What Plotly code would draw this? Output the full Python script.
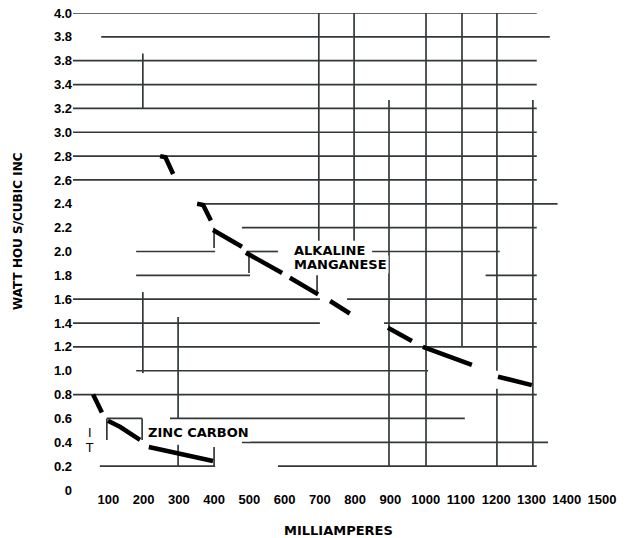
import plotly.graph_objects as go

# Axis ticks
x_tick_vals = [100, 200, 300, 400, 500, 600, 700, 800, 900, 1000, 1100, 1200, 1300, 1400, 1500]
y_tick_vals = [0, 0.2, 0.4, 0.6, 0.8, 1.0, 1.2, 1.4, 1.6, 1.8, 2.0, 2.2, 2.4, 2.6, 2.8, 3.0, 3.2, 3.4, 3.6, 3.8, 4.0]
y_tick_text = ["0", "0.2", "0.4", "0.6", "0.8", "1.0", "1.2", "1.4", "1.6", "1.8", "2.0", "2.2", "2.4",
               "2.6", "2.8", "3.0", "3.2", "3.4", "3.8", "3.8", "4.0"]

# Horizontal grid segments (y, x-start, x-end) in data units
h_y = [4.0, 3.8, 3.6, 3.4, 3.2, 3.0, 2.8, 2.6, 2.4, 2.2, 2.0, 2.0, 2.0, 1.8, 1.8, 1.6, 1.6,
       1.4, 1.4, 1.2, 1.0, 0.8, 0.6, 0.6, 0.4, 0.2, 0.2]
h_x0 = [0, 80, 0, 0, 0, 0, 0, 0, 352, 479, 179, 493, 848, 179, 1170, 0, 777,
        0, 882, 0, 179, 0, 275, 96, 479, 76, 581]
h_x1 = [1315, 1352, 1315, 1315, 1315, 1315, 1315, 1315, 1374, 1315, 403, 581, 1210, 502, 1315, 700, 1315,
        700, 1315, 1315, 1007, 1315, 1111, 196, 1347, 403, 1315]

# Vertical grid segments (x, y-start, y-end) in data units
v_x = [198, 198, 298, 298, 400, 400, 499, 697, 797, 896, 1001, 1103, 1202, 1202, 1304, 96, 196, 692]
v_y0 = [3.2, 0.98, 0.6, 0.2, 0.2, 2.03, 1.82, 2.09, 2.09, 0.2, 0.2, 1.2, 1.0, 0.2, 0.2, 0.42, 0.42, 1.65]
v_y1 = [3.66, 1.66, 1.45, 0.38, 0.36, 2.2, 2.0, 4.0, 4.0, 3.27, 4.0, 4.0, 4.0, 0.85, 3.27, 0.6, 0.6, 1.8]

# Zinc carbon curve pieces
zinc_x = [[57, 82], [99, 133, 190], [215, 303, 397]]
zinc_y = [[0.80, 0.65], [0.58, 0.53, 0.42], [0.36, 0.30, 0.243]]

# Alkaline manganese curve pieces
alk_x = [[247, 262, 284], [352, 369, 391], [397, 479], [490, 593], [615, 695],
         [729, 785], [893, 961], [992, 1131], [1205, 1301]]
alk_y = [[2.80, 2.79, 2.65], [2.40, 2.39, 2.26], [2.18, 2.04], [1.99, 1.82], [1.78, 1.64],
         [1.585, 1.48], [1.36, 1.25], [1.20, 1.05], [0.95, 0.88]]


def join(xs, ys):
    ox, oy = [], []
    for a, b in zip(xs, ys):
        ox += list(a) + [None]
        oy += list(b) + [None]
    return ox, oy


gx, gy = [], []
for y, a, b in zip(h_y, h_x0, h_x1):
    gx += [a, b, None]
    gy += [y, y, None]
for x, a, b in zip(v_x, v_y0, v_y1):
    gx += [x, x, None]
    gy += [a, b, None]

fig = go.Figure()
fig.add_trace(go.Scatter(x=gx, y=gy, mode="lines", line=dict(color="#33393b", width=1.7),
                         cliponaxis=False, hoverinfo="skip", showlegend=False))

zx, zy = join(zinc_x, zinc_y)
ax, ay = join(alk_x, alk_y)
fig.add_trace(go.Scatter(x=zx, y=zy, mode="lines", line=dict(color="black", width=4.5),
                         cliponaxis=False, showlegend=False, name="Zinc carbon"))
fig.add_trace(go.Scatter(x=ax, y=ay, mode="lines", line=dict(color="black", width=4.5),
                         cliponaxis=False, showlegend=False, name="Alkaline manganese"))

lab_font = dict(family="DejaVu Sans", size=13, color="black", weight="bold")
fig.add_annotation(x=621, y=2.01, text="ALKALINE", showarrow=False, xanchor="left", yanchor="middle",
                   font=lab_font, bgcolor="white")
fig.add_annotation(x=621, y=1.895, text="MANGANESE", showarrow=False, xanchor="left", yanchor="middle",
                   font=lab_font, bgcolor="white")
fig.add_annotation(x=207, y=0.48, text="ZINC CARBON", showarrow=False, xanchor="left", yanchor="middle",
                   font=lab_font, bgcolor="white")
fig.add_annotation(x=48, y=0.48, text="I", showarrow=False, font=dict(family="DejaVu Sans", size=12, color="black"))
fig.add_annotation(x=48, y=0.35, text="T", showarrow=False, font=dict(family="DejaVu Sans", size=12, color="black"))

fig.add_annotation(xref="paper", yref="paper", x=(338 - 73) / 529, y=(490 - 530) / 477,
                   text="MILLIAMPERES", showarrow=False, xanchor="center", yanchor="middle",
                   font=lab_font)
fig.add_annotation(xref="paper", yref="paper", x=(18 - 73) / 529, y=(490 - 231) / 477,
                   text="WATT HOU S/CUBIC INC", showarrow=False, xanchor="center", yanchor="middle",
                   textangle=-90, font=dict(family="DejaVu Sans", size=12, color="black", weight="bold"))

tick_font = dict(family="Liberation Sans", size=13, color="black", weight="bold")
fig.update_layout(
    width=630, height=538,
    margin=dict(l=73, r=28, t=13, b=48),
    paper_bgcolor="white", plot_bgcolor="white",
    xaxis=dict(range=[0, 1500], showgrid=False, zeroline=False, showline=False,
               tickvals=x_tick_vals, ticktext=[str(v) for v in x_tick_vals], ticks="",
               tickfont=tick_font, automargin=False),
    yaxis=dict(range=[0, 4.0], showgrid=False, zeroline=False, showline=False,
               tickvals=y_tick_vals, ticktext=y_tick_text, ticks="",
               tickfont=tick_font, automargin=False),
)

fig.write_html("out.html", config={"displayModeBar": False},
               post_script="document.body.style.margin='0';document.body.style.overflow='hidden';")
